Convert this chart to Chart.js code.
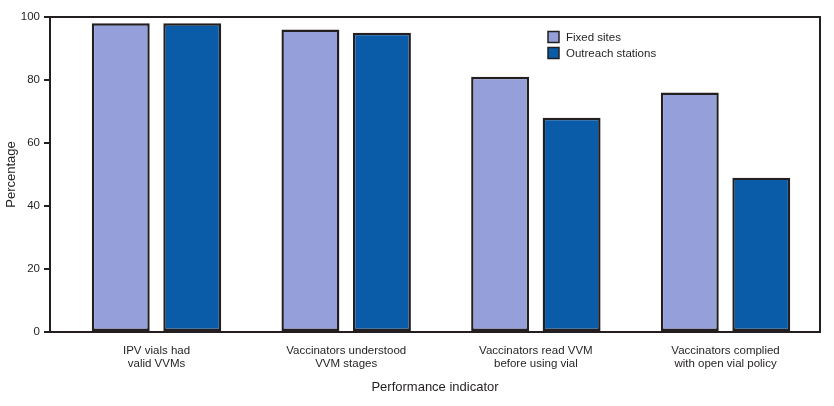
<!DOCTYPE html>
<html>
<head>
<meta charset="utf-8">
<script src="https://cdn.jsdelivr.net/npm/chart.js@4"></script>
<style>
  html, body { margin: 0; padding: 0; background: #fff; }
  #wrap { width: 834px; height: 406px; position: relative; }
</style>
</head>
<body>
<div id="wrap"><canvas id="chart"></canvas></div>
<script>
// Values
const categories = [
  ['IPV vials had', 'valid VVMs'],
  ['Vaccinators understood', 'VVM stages'],
  ['Vaccinators read VVM', 'before using vial'],
  ['Vaccinators complied', 'with open vial policy'],
];
const seriesNames = ['Fixed sites', 'Outreach stations'];
const fixedSites = [98, 96, 81, 76];
const outreachStations = [98, 95, 68, 49];
const yTicks = [0, 20, 40, 60, 80, 100];

const INK = '#231f20';
const FONT = '"Liberation Sans", Arial, sans-serif';
const COLORS = ['#959fd9', '#0a5ca8'];

const toPoints = (vals) => vals.map((v, i) => ({ x: i, y: v }));

// Box round the plot area plus the small legend in its top right
const frame = {
  id: 'frame',
  afterDatasetsDraw(chart) {
    const { ctx, chartArea: a } = chart;
    ctx.save();
    ctx.strokeStyle = INK;
    ctx.lineWidth = 2;
    ctx.strokeRect(a.left, a.top, a.right - a.left, a.bottom - a.top);
    ctx.font = `11.5px ${FONT}`;
    ctx.textBaseline = 'middle';
    chart.data.datasets.forEach((ds, i) => {
      const y = 37 + i * 16;
      ctx.fillStyle = ds.backgroundColor;
      ctx.fillRect(548, y - 5.5, 11, 11);
      ctx.lineWidth = 1.5;
      ctx.strokeRect(548, y - 5.5, 11, 11);
      ctx.fillStyle = INK;
      ctx.fillText(ds.label, 566, y + 0.5);
    });
    ctx.restore();
  },
};

new Chart(document.getElementById('chart'), {
  type: 'bar',
  data: {
    datasets: [
      { label: seriesNames[0], data: toPoints(fixedSites), backgroundColor: COLORS[0] },
      { label: seriesNames[1], data: toPoints(outreachStations), backgroundColor: COLORS[1] },
    ],
  },
  options: {
    responsive: true,
    maintainAspectRatio: false,
    animation: false,
    layout: { padding: { top: 17, right: 14, left: 0, bottom: 0 } },
    datasets: {
      bar: {
        borderColor: INK, borderWidth: 2.4, borderSkipped: false,
        categoryPercentage: 0.754, barPercentage: 0.81,
      },
    },
    plugins: { legend: { display: false }, tooltip: { enabled: false } },
    scales: {
      x: {
        type: 'linear',
        offset: false,
        min: -0.5615,
        max: 3.498,
        afterBuildTicks: (s) => { s.ticks = categories.map((_, i) => ({ value: i })); },
        afterFit: (s) => { s.height = 74; },
        grid: { display: false },
        border: { display: false },
        ticks: {
          autoSkip: false, maxRotation: 0, padding: 4,
          color: INK, font: { family: FONT, size: 11.5, lineHeight: 1.15 },
          callback: (v) => categories[v],
        },
        title: {
          display: true, text: 'Performance indicator', color: INK,
          font: { family: FONT, size: 13 }, padding: { top: 0, bottom: 11 },
        },
      },
      y: {
        min: 0,
        max: 100,
        afterBuildTicks: (s) => { s.ticks = yTicks.map((v) => ({ value: v })); },
        afterFit: (s) => { s.width = 50; },
        grid: { drawOnChartArea: false, drawTicks: true, tickLength: 6, color: INK, lineWidth: 2 },
        border: { display: false },
        ticks: { padding: 4, color: INK, font: { family: FONT, size: 11.5 } },
        title: {
          display: true, text: 'Percentage', color: INK,
          font: { family: FONT, size: 13 }, padding: { top: 4, bottom: 0 },
        },
      },
    },
  },
  plugins: [frame],
});
</script>
</body>
</html>
